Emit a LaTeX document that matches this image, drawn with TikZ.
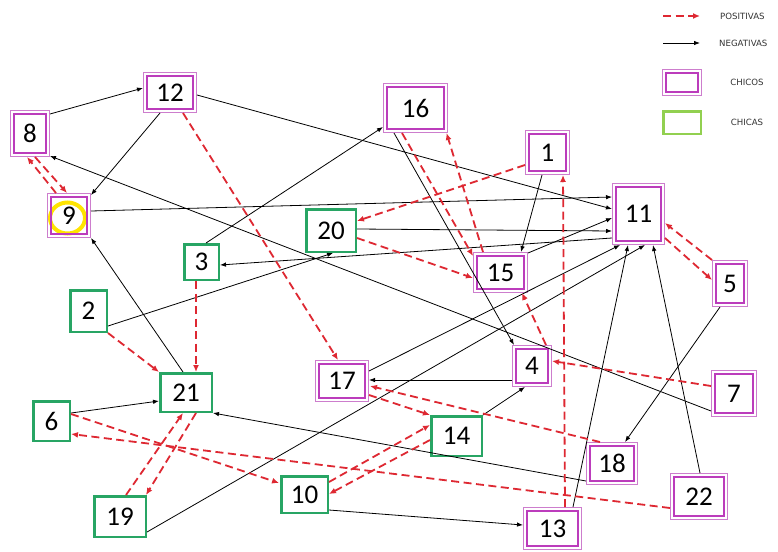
\documentclass[tikz,border=0pt]{standalone}
\usepackage{fontspec}
\usetikzlibrary{arrows.meta,calc}
\newfontfamily\numfont{Carlito}
\newfontfamily\legfont{DejaVu Sans}
\definecolor{chicoc}{RGB}{188,60,188}
\definecolor{chicol}{RGB}{205,125,205}
\definecolor{chicac}{RGB}{40,165,100}
\definecolor{legg}{RGB}{146,208,80}
\definecolor{posc}{RGB}{222,40,50}
\definecolor{ringc}{RGB}{255,228,0}
\tikzset{
  chico/.style={draw=chicol, line width=1pt, inner sep=0pt,
    font=\numfont\fontsize{27pt}{27pt}\selectfont,
    path picture={\draw[chicoc,line width=2.2pt]
      ([shift={(3.2pt,3.2pt)}]path picture bounding box.south west) rectangle
      ([shift={(-3.2pt,-3.2pt)}]path picture bounding box.north east);}},
  chica/.style={draw=chicac, line width=2.5pt, inner sep=0pt,
    font=\numfont\fontsize{27pt}{27pt}\selectfont},
  negarrow/.style={draw=black, line width=0.8pt, -{Latex[length=6pt,width=4.5pt]}},
  posarrow/.style={draw=posc, line width=1.8pt, dash pattern=on 8pt off 4.5pt,
    -{Latex[length=7pt,width=6pt]}},
  legtext/.style={font=\legfont\fontsize{8.6pt}{9pt}\selectfont, text=black!80, inner sep=0pt},
  yring/.style={draw=ringc, line width=4pt}
}
\begin{document}
\begin{tikzpicture}[x=1pt,y=-1pt]
\useasboundingbox (0,0) rectangle (778,551);
\fill[white] (0,0) rectangle (778,551);

% yellow ring around 9
\draw[yring] (67.5,218) ellipse [x radius=17.5pt, y radius=15.5pt];

% chicos
\node[chico, minimum width=39pt, minimum height=46pt] (n8)  at (30,133.5) {8};
\node[chico, minimum width=53pt, minimum height=40pt] (n12) at (170,92.5) {12};
\node[chico, minimum width=43pt, minimum height=44pt] (n9)  at (69,215.5) {9};
\node[chico, minimum width=64pt, minimum height=49pt] (n16) at (415.5,108) {16};
\node[chico, minimum width=44pt, minimum height=44pt] (n1)  at (547.5,152.5) {1};
\node[chico, minimum width=52pt, minimum height=61pt] (n11) at (638.5,214) {11};
\node[chico, minimum width=54pt, minimum height=40pt] (n15) at (500.5,272.5) {15};
\node[chico, minimum width=35pt, minimum height=46pt] (n5)  at (730,283.5) {5};
\node[chico, minimum width=53pt, minimum height=41pt] (n17) at (342,381) {17};
\node[chico, minimum width=39pt, minimum height=41pt] (n4)  at (532,366) {4};
\node[chico, minimum width=45pt, minimum height=46pt] (n7)  at (734,393.5) {7};
\node[chico, minimum width=51pt, minimum height=42pt] (n18) at (612,463.5) {18};
\node[chico, minimum width=57pt, minimum height=46pt] (n22) at (699,496.5) {22};
\node[chico, minimum width=58pt, minimum height=42pt] (n13) at (552.5,528.5) {13};
% chicas
\node[chica, minimum width=49.5pt, minimum height=42.5pt] (n20) at (331,230.5) {20};
\node[chica, minimum width=34.5pt, minimum height=35.5pt] (n3)  at (201.5,262) {3};
\node[chica, minimum width=36.5pt, minimum height=41.5pt] (n2)  at (88.5,311) {2};
\node[chica, minimum width=51.5pt, minimum height=38.5pt] (n21) at (186,392.5) {21};
\node[chica, minimum width=36.5pt, minimum height=39.5pt] (n6)  at (51.5,421) {6};
\node[chica, minimum width=51.5pt, minimum height=40.5pt] (n19) at (120,516.5) {19};
\node[chica, minimum width=50.5pt, minimum height=39.5pt] (n14) at (456.5,436) {14};
\node[chica, minimum width=46.5pt, minimum height=36.5pt] (n10) at (304.5,494.5) {10};

% negativas (black)
\draw[negarrow] ($(n8.center)+(20,-19.5)$) -- ($(n12.center)+(-27,-4.5)$);
\draw[negarrow] ($(n12.center)+(-10,20.5)$) -- ($(n9.center)+(22,-20.5)$);
\draw[negarrow] ($(n12.center)+(27,2.5)$) -- ($(n11.center)+(-26.5,-5)$);
\draw[negarrow] ($(n9.center)+(22,-4.5)$) -- ($(n11.center)+(-26.5,-17)$);
\draw[negarrow] ($(n20.center)+(26,-1.5)$) -- ($(n11.center)+(-26.5,17)$);
\draw[negarrow] ($(n11.center)+(-26.5,24)$) -- ($(n3.center)+(18.5,3)$);
\draw[negarrow] ($(n15.center)+(27.5,-19.5)$) -- ($(n11.center)+(-26.5,4)$);
\draw[negarrow] ($(n1.center)+(-5.5,22.5)$) -- ($(n15.center)+(20.5,-20.5)$);
\draw[negarrow] ($(n3.center)+(4.5,-19)$) -- ($(n16.center)+(-32.5,19)$);
\draw[negarrow] ($(n16.center)+(-21.5,25)$) -- ($(n4.center)+(-18,-21)$);
\draw[negarrow] ($(n2.center)+(19.5,15)$) -- ($(n20.center)+(2,22.5)$);
\draw[negarrow] ($(n21.center)+(-3,-20.5)$) -- ($(n9.center)+(22,22.5)$);
\draw[negarrow] ($(n6.center)+(19.5,-8)$) -- ($(n21.center)+(-27,8.5)$);
\draw[negarrow] ($(n18.center)+(-26,17.5)$) -- ($(n21.center)+(27,20.5)$);
\draw[negarrow] ($(n19.center)+(27,15.5)$) -- ($(n11.center)+(6.5,31)$);
\draw[negarrow] ($(n17.center)+(27,-10)$) -- ($(n11.center)+(-18.5,31)$);
\draw[negarrow] ($(n13.center)+(20.5,-21.5)$) -- ($(n11.center)+(-10.5,31)$);
\draw[negarrow] ($(n22.center)+(1,-23.5)$) -- ($(n11.center)+(14.5,31)$);
\draw[negarrow] ($(n14.center)+(26.5,-21)$) -- ($(n4.center)+(-7,21)$);
\draw[negarrow] ($(n4.center)+(-20,14)$) -- ($(n17.center)+(27,-1)$);
\draw[negarrow] ($(n7.center)+(-23,17.5)$) -- ($(n8.center)+(20,22.5)$);
\draw[negarrow] ($(n5.center)+(-10,23.5)$) -- ($(n18.center)+(13,-21.5)$);
\draw[negarrow] ($(n10.center)+(24.5,15.5)$) -- ($(n13.center)+(-29.5,-3.5)$);

% positivas (red dashed)
\draw[posarrow] ($(n9.center)+(-13,-22.5)$) -- ($(n8.center)+(-3,23.5)$);
\draw[posarrow] ($(n8.center)+(5,23.5)$) -- ($(n9.center)+(-2,-22.5)$);
\draw[posarrow] ($(n12.center)+(13,20.5)$) -- ($(n17.center)+(-4,-21)$);
\draw[posarrow] ($(n1.center)+(-22.5,12.5)$) -- ($(n20.center)+(26,-9.5)$);
\draw[posarrow] ($(n16.center)+(-13.5,25)$) -- ($(n15.center)+(-27.5,-16.5)$);
\draw[posarrow] ($(n15.center)+(-17.5,-20.5)$) -- ($(n16.center)+(31,25)$);
\draw[posarrow] ($(n20.center)+(26,7.5)$) -- ($(n15.center)+(-27.5,5.5)$);
\draw[posarrow] ($(n13.center)+(12.5,-21.5)$) -- ($(n1.center)+(15.5,22.5)$);
\draw[posarrow] ($(n5.center)+(-18,-23.5)$) -- ($(n11.center)+(26.5,9)$);
\draw[posarrow] ($(n11.center)+(26.5,24)$) -- ($(n5.center)+(-18,-3.5)$);
\draw[posarrow] ($(n3.center)+(-5.5,19)$) -- ($(n21.center)+(10,-20.5)$);
\draw[posarrow] ($(n2.center)+(19.5,22)$) -- ($(n21.center)+(-27,-20.5)$);
\draw[posarrow] ($(n19.center)+(6,-21.5)$) -- ($(n21.center)+(-3,20.5)$);
\draw[posarrow] ($(n21.center)+(10,20.5)$) -- ($(n19.center)+(26,-21.5)$);
\draw[posarrow] ($(n6.center)+(19.5,-7)$) -- ($(n10.center)+(-25.5,-11.5)$);
\draw[posarrow] ($(n22.center)+(-29,11.5)$) -- ($(n6.center)+(19.5,13)$);
\draw[posarrow] ($(n17.center)+(27,14)$) -- ($(n14.center)+(-26.5,-21)$);
\draw[posarrow] ($(n18.center)+(-12,-21.5)$) -- ($(n17.center)+(28,5)$);
\draw[posarrow] ($(n10.center)+(24.5,-12.5)$) -- ($(n14.center)+(-26.5,-11)$);
\draw[posarrow] ($(n14.center)+(-26.5,4)$) -- ($(n10.center)+(24.5,-0.5)$);
\draw[posarrow] ($(n7.center)+(-23,-7.5)$) -- ($(n4.center)+(20,-5)$);
\draw[posarrow] ($(n4.center)+(14,-21)$) -- ($(n15.center)+(21.5,20.5)$);

% legend
\coordinate (lpa) at (663,16);
\coordinate (lpb) at (700,16);
\coordinate (lna) at (663,43);
\coordinate (lnb) at (700,43);
\draw[posarrow] (lpa) -- (lpb);
\draw[negarrow] (lna) -- (lnb);
\node[legtext, anchor=west] (tpos) at (720,16) {POSITIVAS};
\node[legtext, anchor=west] (tneg) at (719,43) {NEGATIVAS};
\node[chico, minimum width=39pt, minimum height=26pt] (lchico) at (682,82.5) {};
\node[draw=legg, line width=2.5pt, inner sep=0pt, minimum width=37.5pt, minimum height=22.5pt] (lchica) at (682,122.5) {};
\node[legtext] (tchico) at (747,82) {CHICOS};
\node[legtext] (tchica) at (747,122) {CHICAS};
\end{tikzpicture}
\end{document}
